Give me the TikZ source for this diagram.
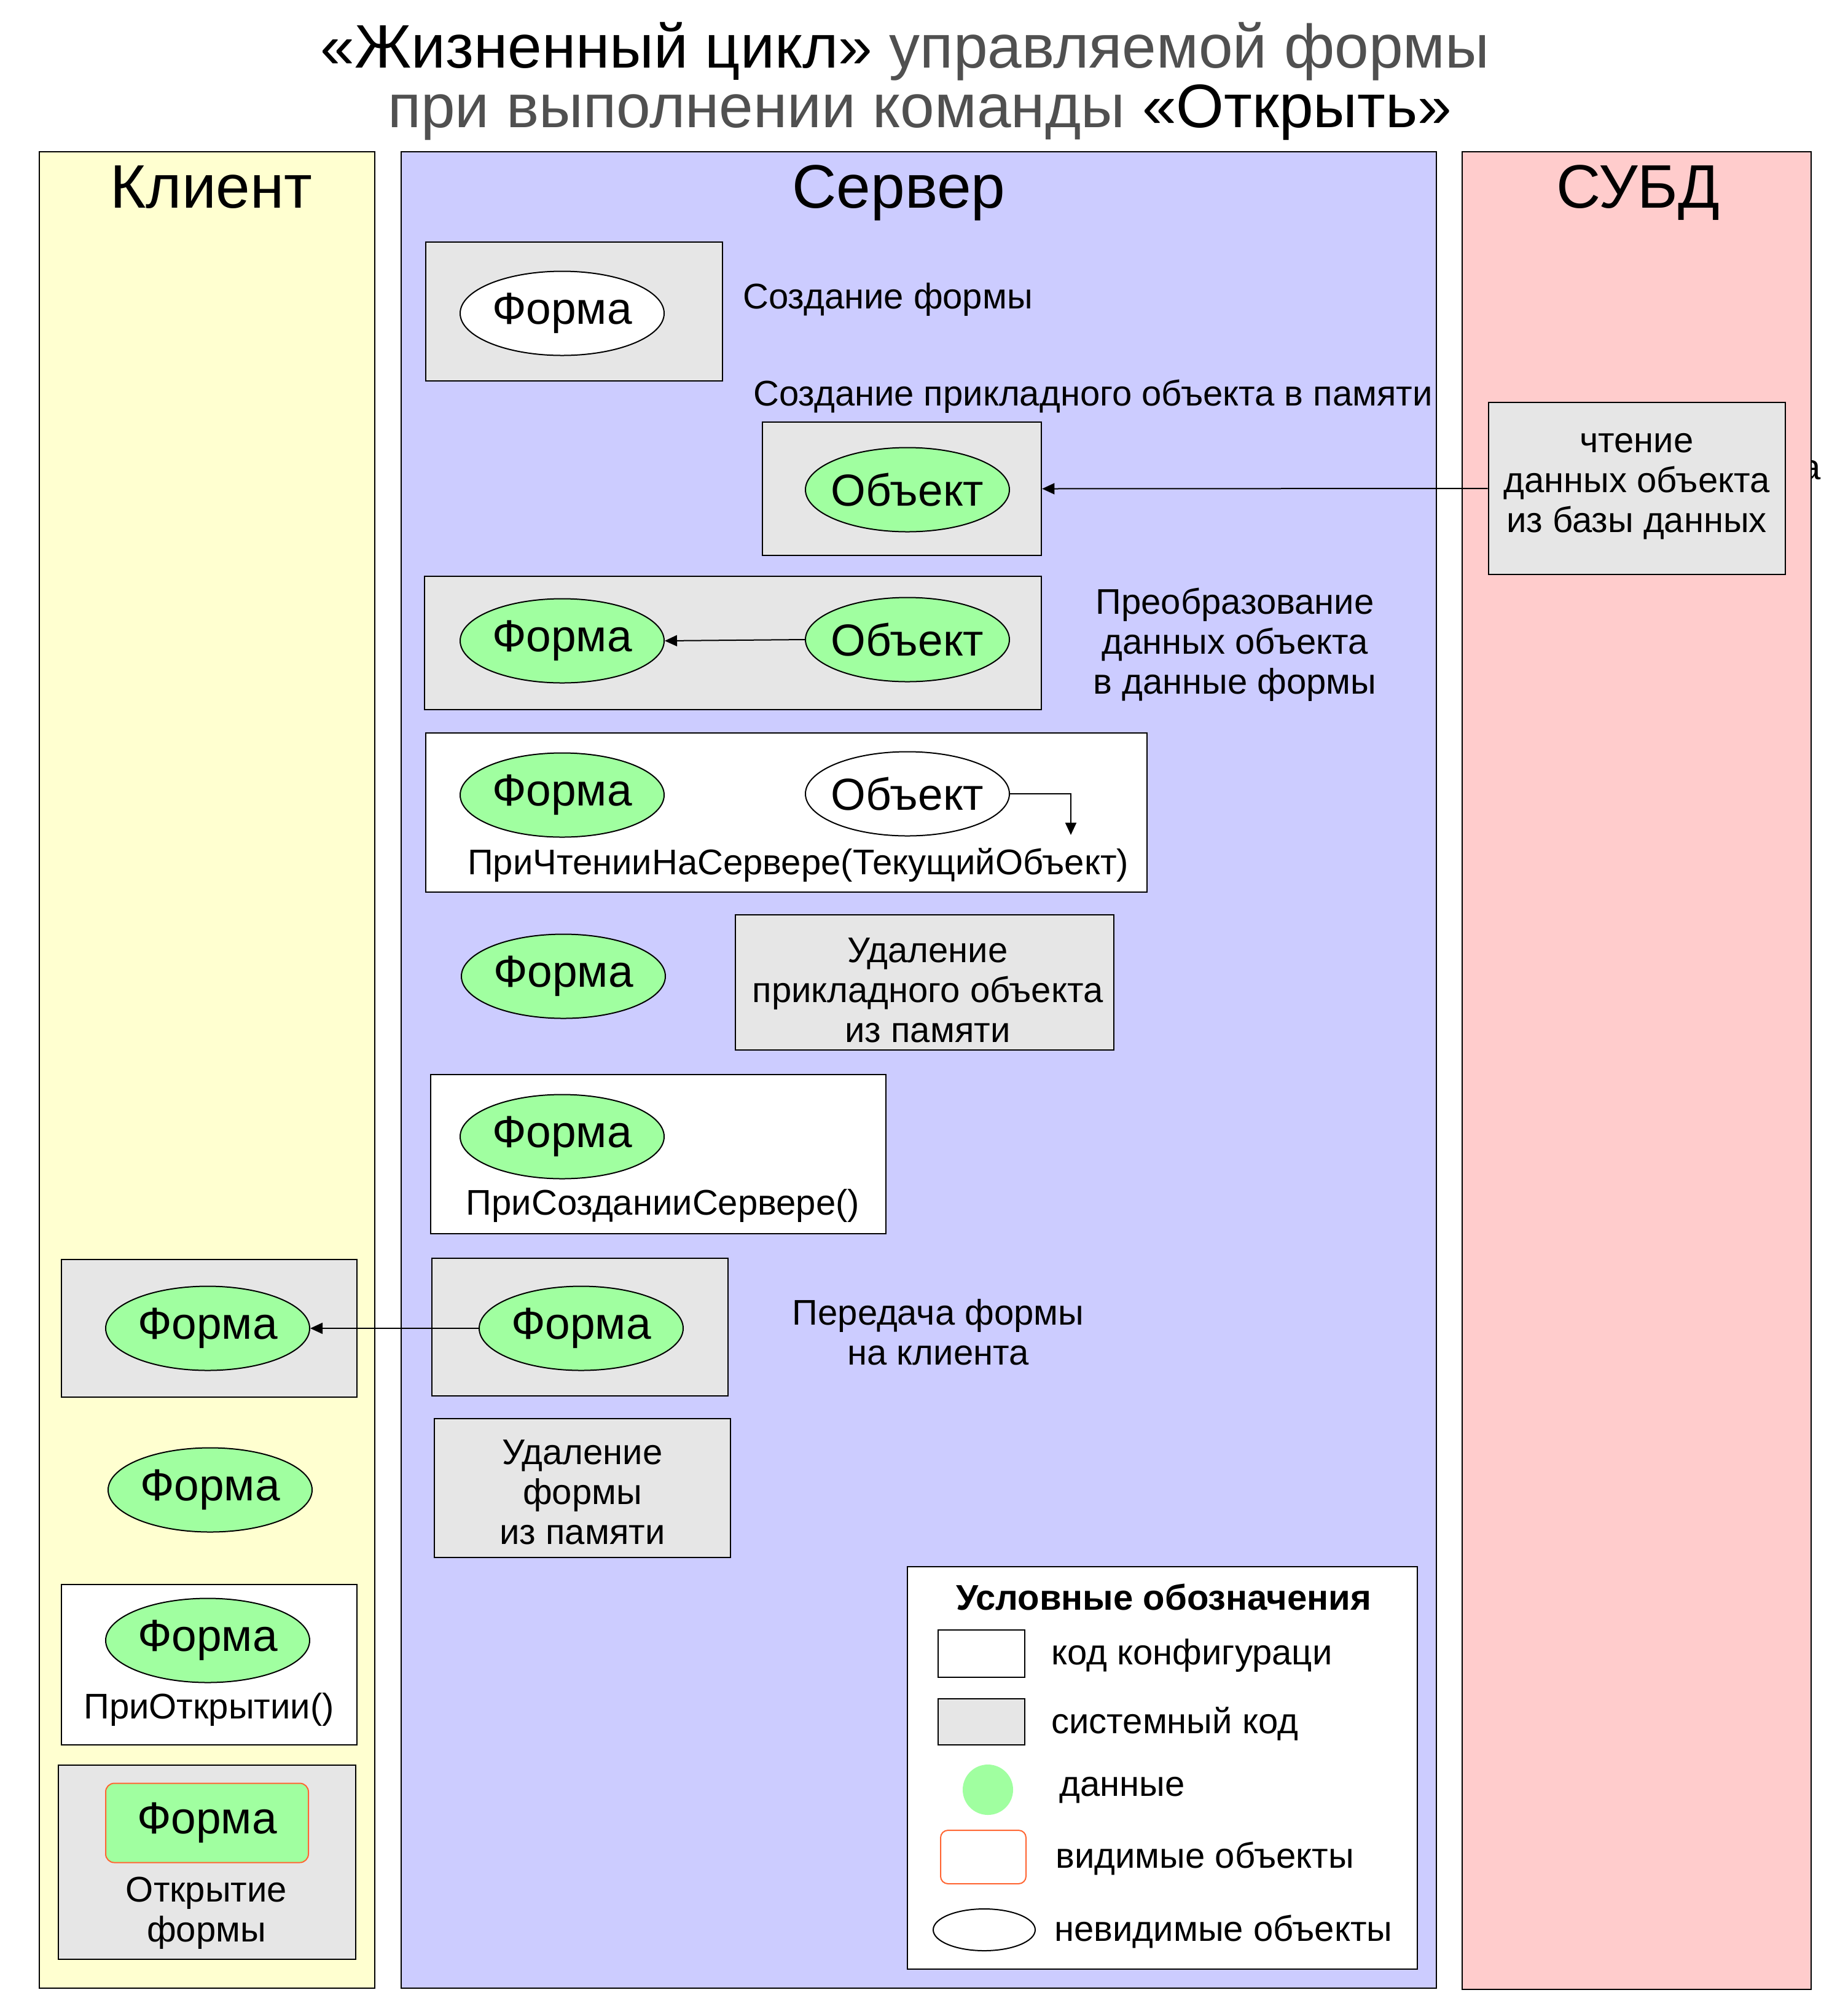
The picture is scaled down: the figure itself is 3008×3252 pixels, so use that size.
\documentclass[tikz,border=0pt]{standalone}
\usepackage{fontspec}
\setmainfont{Liberation Sans}
\usetikzlibrary{fit,arrows.meta,shapes.geometric}
\definecolor{cliyellow}{HTML}{FFFFD0}
\definecolor{srvblue}{HTML}{CCCCFF}
\definecolor{dbpink}{HTML}{FFCCCC}
\definecolor{sysgray}{HTML}{E6E6E6}
\definecolor{datgreen}{HTML}{A0FFA0}
\definecolor{visorange}{HTML}{FF6633}
\definecolor{titlegray}{HTML}{505050}
\newcommand\myBody{\fontsize{29}{32.5}\selectfont}
\newcommand\myEll{\fontsize{36.5}{40}\selectfont}
\newcommand\myHead{\fontsize{50}{55}\selectfont}
\newcommand\myTitle{\fontsize{50}{55}\selectfont}
\begin{document}
\begin{tikzpicture}[x=0.5pt,y=-0.5pt,
  col/.style={draw=black, line width=1.1pt, inner sep=0pt},
  sysbox/.style={draw=black, fill=sysgray, line width=1.3pt, inner sep=0pt},
  cfgbox/.style={draw=black, fill=white, line width=1.3pt, inner sep=0pt},
  dat/.style={ellipse, draw=black, fill=datgreen, line width=1pt, minimum width=166pt, minimum height=68.5pt, inner xsep=-30pt, inner ysep=-10pt, font=\myEll},
  inv/.style={dat, fill=white},
  lbl/.style={font=\myBody, inner sep=0pt},
  mlbl/.style={font=\myBody, inner sep=0pt, align=center},
  hdr/.style={font=\myHead, inner sep=0pt, anchor=base},
  arr/.style={-{Triangle[length=10pt,width=9pt]}, line width=1pt}
]
\useasboundingbox (0,0) rectangle (3008,3252);
\fill[white] (0,0) rectangle (3008,3252);

% title
\node[anchor=base, font=\myTitle, inner sep=0pt] (t1) at (1473,110) {«Жизненный цикл» \textcolor{titlegray}{управляемой формы}};
\node[anchor=base, font=\myTitle, inner sep=0pt] (t2) at (1497,207) {\textcolor{titlegray}{при выполнении команды} «Открыть»};

% partly hidden text tail behind the DB column
\node[lbl, anchor=base west] (tailA) at (2931,780) {а};

% columns
\node[col, fill=cliyellow, fit={(64,247)(610,3236)}] (colK) {};
\node[col, fill=srvblue, fit={(653,247)(2338,3236)}] (colS) {};
\node[col, fill=dbpink, fit={(2380,247)(2948,3238)}] (colD) {};
\node[hdr] (hK) at (344,338) {Клиент};
\node[hdr] (hS) at (1463,338) {Сервер};
\node[hdr] (hD) at (2666,338) {СУБД};

% server: step 1
\node[sysbox, fit={(693,394)(1176,620)}] (b1) {};
\node[inv] (f1) at (915,510) {Форма};
\node[lbl, anchor=base west] (l1) at (1209,502) {Создание формы};

% step 2
\node[lbl, anchor=base west] (l2) at (1226,660) {Создание прикладного объекта в памяти};
\node[sysbox, fit={(1241,687)(1695,904)}] (b2) {};
\node[dat] (o1) at (1477,797) {Объект};

% DB
\node[sysbox, fit={(2423,655)(2906,935)}] (db) {};
\node[mlbl] (dbt) at (2664,792) {чтение\\данных объекта\\из базы данных};
\draw[arr] (db.west) -- (b2.east);

% step 3
\node[sysbox, fit={(691,938)(1695,1155)}] (b3) {};
\node[dat] (f2) at (915,1043) {Форма};
\node[dat] (o2) at (1477,1041) {Объект};
\draw[arr] (o2.west) -- (f2.east);
\node[mlbl] (l3) at (2010,1049) {Преобразование\\данных объекта\\в данные формы};

% step 4
\node[cfgbox, fit={(693,1193)(1867,1452)}] (b4) {};
\node[dat] (f3) at (915,1294) {Форма};
\node[inv] (o3) at (1477,1292) {Объект};
\coordinate (o3end) at (1743,1359);
\draw[arr] (o3.east) -| (o3end);
\node[lbl, anchor=base] (l4) at (1299,1423) {ПриЧтенииНаСервере(ТекущийОбъект)};

% step 5
\node[dat] (f4) at (917,1589) {Форма};
\node[sysbox, fit={(1197,1489)(1813,1709)}] (b5) {};
\node[mlbl] (l5) at (1510,1612) {Удаление\\прикладного объекта\\из памяти};

% step 6
\node[cfgbox, fit={(701,1749)(1442,2008)}] (b6) {};
\node[dat] (f5) at (915,1850) {Форма};
\node[lbl, anchor=base] (l6) at (1079,1977) {ПриСозданииСервере()};

% step 7
\node[sysbox, fit={(703,2048)(1185,2272)}] (b7) {};
\node[dat] (f6) at (946,2162) {Форма};
\node[mlbl] (l7) at (1527,2168) {Передача формы\\на клиента};

% step 8
\node[sysbox, fit={(707,2309)(1189,2535)}] (b8) {};
\node[mlbl] (l8) at (948,2429) {Удаление\\формы\\из памяти};

% client
\node[sysbox, fit={(100,2050)(581,2274)}] (c1) {};
\node[dat] (f7) at (338,2162) {Форма};
\draw[arr] (f6.west) -- (f7.east);
\node[dat] (f8) at (342,2425) {Форма};
\node[cfgbox, fit={(100,2579)(581,2840)}] (c2) {};
\node[dat] (f9) at (338,2670) {Форма};
\node[lbl, anchor=base] (lc2) at (340,2797) {ПриОткрытии()};
\node[sysbox, fit={(95,2873)(579,3189)}] (c3) {};
\node[draw=visorange, fill=datgreen, line width=1pt, rounded corners=7pt, minimum width=165pt, minimum height=64.5pt, inner sep=0pt, font=\myEll] (fv) at (337,2967) {Форма};
\node[mlbl] (lc3) at (336,3114) {Открытие\\формы};

% legend
\node[cfgbox, fit={(1477,2550)(2307,3205)}] (leg) {};
\node[lbl, anchor=base, font=\myBody\bfseries] (legT) at (1894,2620) {Условные обозначения};
\node[cfgbox, fit={(1527,2653)(1668,2730)}] (lg1) {};
\node[lbl, anchor=base west] (lgt1) at (1711,2709) {код конфигураци};
\node[sysbox, fit={(1527,2765)(1668,2840)}] (lg2) {};
\node[lbl, anchor=base west] (lgt2) at (1711,2821) {системный код};
\node[circle, fill=datgreen, minimum size=41pt, inner sep=0pt] (lg3) at (1608,2913) {};
\node[lbl, anchor=base west] (lgt3) at (1724,2923) {данные};
\node[draw=visorange, fill=white, line width=1pt, rounded corners=6pt, fit={(1531,2979)(1670,3066)}, inner sep=0pt] (lg4) {};
\node[lbl, anchor=base west] (lgt4) at (1718,3040) {видимые объекты};
\node[ellipse, draw=black, fill=white, line width=1pt, minimum width=83pt, minimum height=34pt, inner sep=0pt] (lg5) at (1602,3141) {};
\node[lbl, anchor=base west] (lgt5) at (1716,3159) {невидимые объекты};
\end{tikzpicture}
\end{document}
